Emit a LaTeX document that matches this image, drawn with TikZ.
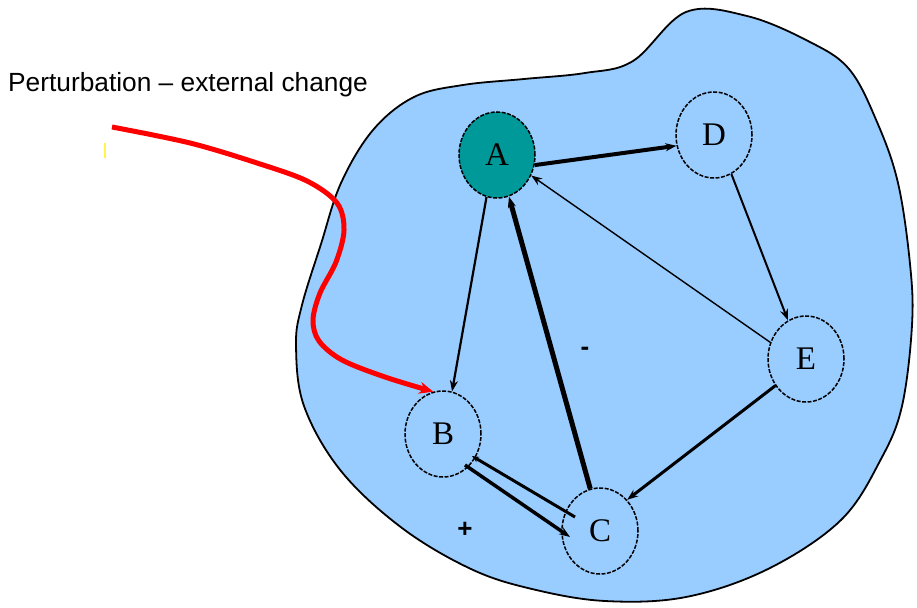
\documentclass[tikz,border=0pt]{standalone}
\usepackage{fontspec}
\setmainfont{Liberation Serif}
\newfontfamily\labelfont{Liberation Sans}
\usetikzlibrary{shapes.geometric,arrows.meta}
\definecolor{blobblue}{RGB}{153,204,255}
\definecolor{tealA}{RGB}{0,153,153}
\begin{document}
\begin{tikzpicture}[x=1pt,y=-1pt,
  vtx/.style={ellipse,draw=black,line width=1.5pt,dash pattern=on 4pt off 1.5pt,
    minimum width=76pt,minimum height=86pt,inner sep=0pt,
    font=\rmfamily\fontsize{33}{33}\selectfont},
  tip/.style={-{Stealth[length=11pt,width=8pt]}},
  sign/.style={font=\labelfont\bfseries\fontsize{26}{26}\selectfont,inner sep=0pt}]
\useasboundingbox (0,0) rectangle (917,607);
% blob
\draw[fill=blobblue,line width=1.8pt] plot[smooth cycle,tension=0.6] coordinates {
  (686,12) (747,16) (808,41) (849,69) (877,122) (898,183) (910,264) (912,325)
  (902,406) (881,459) (841,520) (768,569) (686,597) (605,601) (532,589)
  (471,569) (402,528) (341,471) (304,406) (296,345) (302,305) (321,244)
  (341,183) (373,130) (414,97) (463,85) (524,79) (585,73) (633,61)};
% nodes
\node[vtx,fill=tealA] (A) at (497,155) {A};
\node[vtx] (D) at (714,135) {D};
\node[vtx] (E) at (806,359) {E};
\node[vtx] (B) at (443,434) {B};
\node[vtx] (C) at (600,531) {C};
% edges
\draw[tip,line width=4pt] (A.-15) -- (D.196);
\draw[tip,line width=1.4pt] (E.155) -- (A.-31);
\draw[tip,line width=2pt] (D.-66) -- (E.115);
\draw[tip,line width=2.2pt] (A.-104) -- (B.78);
\draw[tip,line width=5pt] (C.103) -- (A.-74);
\draw[tip,line width=3pt] (E.221) -- (C.49);
\draw[-{Stealth[length=7pt,width=6pt]},line width=3pt]
  ([shift={(-25,-14)}]C.center) -- ([shift={(29,22)}]B.center);
\draw[tip,line width=3.5pt]
  ([shift={(22,31)}]B.center) -- ([shift={(-30,6)}]C.center);
% signs
\node[sign] (minus) at (585,351) {-};
\node[sign] (plus) at (465,530) {+};
% perturbation
\node[anchor=base west,inner sep=0pt,font=\labelfont\fontsize{26.3}{30}\selectfont] (pert) at (8,92) {Perturbation – external change};
\coordinate (pstart) at (112,127);
\draw[red,line width=5pt,-{Stealth[length=14pt,width=12pt]},line join=round] plot[smooth,tension=0.55] coordinates {
  (pstart) (190,143) (257,163) (307,181) (337,203) (344,230) (336,262)
  (320,293) (313,320) (319,341) (342,360) (385,377) (B.103)};
\draw[yellow!70,line width=1.2pt] (105,143) -- (105,158);
\end{tikzpicture}
\end{document}
